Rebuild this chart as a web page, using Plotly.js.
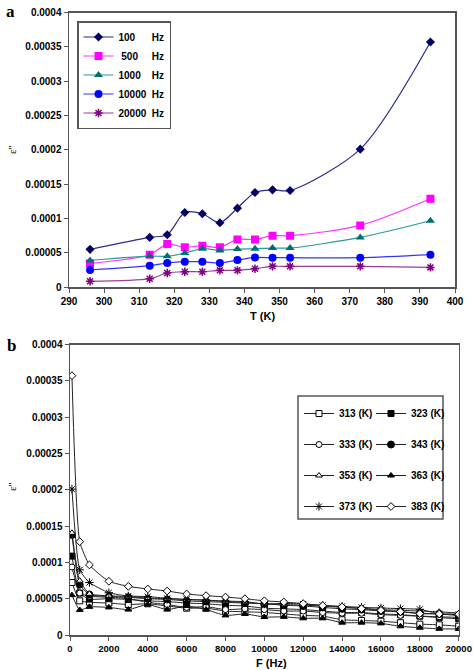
<!DOCTYPE html>
<html>
<head>
<meta charset="utf-8">
<script src="https://cdn.plot.ly/plotly-3.0.1.min.js"></script>
<style>html,body{margin:0;padding:0;background:#fff;}#chart{width:473px;height:670px;}</style>
</head>
<body>
<div id="chart"></div>
<script>
// ---- Panel a data: epsilon'' vs temperature ----
var tempA = [296, 313, 318, 323, 328, 333, 338, 343, 348, 353, 373, 393];
var e100 = [0.0000549, 0.0000723, 0.0000762, 0.0001087, 0.0001068, 0.0000937, 0.000115, 0.0001379, 0.0001417, 0.0001408, 0.000201, 0.0003573];
var e500 = [0.0000345, 0.0000471, 0.0000626, 0.0000578, 0.0000602, 0.0000578, 0.0000694, 0.0000694, 0.0000748, 0.0000748, 0.0000898, 0.0001286];
var e1000 = [0.0000388, 0.0000451, 0.0000447, 0.0000495, 0.0000558, 0.0000534, 0.0000553, 0.0000558, 0.0000568, 0.0000568, 0.0000723, 0.0000966];
var e10000 = [0.0000248, 0.0000311, 0.000035, 0.0000369, 0.0000369, 0.000035, 0.0000393, 0.0000432, 0.0000427, 0.0000427, 0.0000427, 0.0000471];
var e20000 = [0.0000083, 0.0000121, 0.0000204, 0.0000223, 0.0000223, 0.0000243, 0.0000243, 0.0000267, 0.0000301, 0.0000301, 0.0000301, 0.0000286];
var namesA = ['100\u00a0\u00a0\u00a0\u00a0\u00a0\u00a0Hz', '\u00a0500\u00a0\u00a0\u00a0\u00a0\u00a0Hz', '1000\u00a0\u00a0\u00a0\u00a0Hz', '10000\u00a0\u00a0Hz', '20000\u00a0\u00a0Hz'];

// ---- Panel b data: epsilon'' vs frequency ----
var freqB = [100, 500, 1000, 2000, 3000, 4000, 5000, 6000, 7000, 8000, 9000, 10000, 11000, 12000, 13000, 14000, 15000, 16000, 17000, 18000, 19000, 20000];
var k313 = [0.0000723, 0.0000471, 0.0000451, 0.000044, 0.000042, 0.000043, 0.000040, 0.000037, 0.000037, 0.000033, 0.000032, 0.0000311, 0.000029, 0.000027, 0.000026, 0.000021, 0.000020, 0.000019, 0.000017, 0.000015, 0.000014, 0.0000121];
var k323 = [0.0001087, 0.0000578, 0.0000495, 0.000050, 0.000049, 0.000047, 0.000046, 0.000044, 0.000043, 0.000041, 0.000040, 0.0000369, 0.000036, 0.000035, 0.000033, 0.000031, 0.000031, 0.000029, 0.000028, 0.000026, 0.000024, 0.0000223];
var k333 = [0.0000937, 0.0000578, 0.0000534, 0.000052, 0.000050, 0.000045, 0.000042, 0.000038, 0.000039, 0.000035, 0.000036, 0.000035, 0.000033, 0.000033, 0.000031, 0.000030, 0.000030, 0.000028, 0.000027, 0.000026, 0.000025, 0.0000243];
var k343 = [0.0001379, 0.0000694, 0.0000558, 0.000053, 0.000052, 0.000050, 0.000049, 0.000047, 0.000046, 0.000045, 0.000044, 0.0000432, 0.000041, 0.000040, 0.000038, 0.000036, 0.000035, 0.000033, 0.000032, 0.000030, 0.000029, 0.0000267];
var k353 = [0.0001408, 0.0000748, 0.0000568, 0.000054, 0.000053, 0.000051, 0.000050, 0.000049, 0.000048, 0.000046, 0.000045, 0.0000427, 0.000042, 0.000041, 0.000040, 0.000038, 0.000037, 0.000035, 0.000034, 0.000033, 0.000032, 0.0000301];
var k363 = [0.0000549, 0.0000345, 0.0000388, 0.000038, 0.000035, 0.000042, 0.000035, 0.000040, 0.000035, 0.000027, 0.000029, 0.0000248, 0.000025, 0.000023, 0.000023, 0.000017, 0.000017, 0.000016, 0.000012, 0.000010, 0.0000085, 0.0000083];
var k373 = [0.000201, 0.0000898, 0.0000723, 0.0000583, 0.0000537, 0.000053, 0.0000505, 0.000049, 0.000048, 0.0000468, 0.0000459, 0.0000427, 0.0000436, 0.0000427, 0.0000409, 0.0000395, 0.0000381, 0.0000372, 0.0000363, 0.0000354, 0.000029, 0.0000286];
var k383 = [0.0003573, 0.0001286, 0.0000966, 0.000074, 0.000067, 0.0000634, 0.0000606, 0.0000565, 0.0000542, 0.0000523, 0.00005, 0.0000471, 0.0000455, 0.0000432, 0.0000404, 0.0000386, 0.0000363, 0.000034, 0.0000321, 0.0000294, 0.000029, 0.0000286];
var namesB = ['313 (K)', '323 (K)', '333 (K)', '343 (K)', '353 (K)', '363 (K)', '373 (K)', '383 (K)'];

// ---- tick labels ----
var yTickVals = [0, 0.00005, 0.0001, 0.00015, 0.0002, 0.00025, 0.0003, 0.00035, 0.0004];
var yTickText = ['0', '0.00005', '0.0001', '0.00015', '0.0002', '0.00025', '0.0003', '0.00035', '0.0004'];
var xTickValsA = [290, 300, 310, 320, 330, 340, 350, 360, 370, 380, 390, 400];
var xTickValsB = [0, 2000, 4000, 6000, 8000, 10000, 12000, 14000, 16000, 18000, 20000];
var xTickTextB = ['0', '2000', '4000', '6000', '8000', '10000', '12000', '14000', '16000', '18000', '20000'];

var W = 473, H = 670;
var FONT = 'Arial, "Liberation Sans", sans-serif';

var seriesA = [e100, e500, e1000, e10000, e20000];
var lineColA = ['#2b2b8c', '#ff33ff', '#2a9a9a', '#3333ff', '#9a3d9a'];
var mkColA = ['#000066', '#ff00ff', '#007070', '#0000ff', '#800080'];
var symA = ['diamond', 'square', 'triangle-up', 'circle', 'asterisk-open'];
var sizeA = [7, 8, 8, 8, 7];

var traces = [];
seriesA.forEach(function (s, i) {
  var mk = {symbol: symA[i], size: sizeA[i], color: mkColA[i]};
  if (symA[i] === 'asterisk-open') mk.line = {color: mkColA[i], width: 1.5};
  traces.push({
    x: tempA, y: s, type: 'scatter', mode: 'lines+markers', name: namesA[i],
    xaxis: 'x', yaxis: 'y', legend: 'legend',
    line: {color: lineColA[i], width: 1.2, shape: 'spline', smoothing: 0.8},
    marker: mk
  });
});

var seriesB = [k313, k323, k333, k343, k353, k363, k373, k383];
var symB = ['square', 'square', 'circle', 'circle', 'triangle-up', 'triangle-up', 'asterisk-open', 'diamond'];
var fillB = ['#ffffff', '#000000', '#ffffff', '#000000', '#ffffff', '#000000', '#000000', '#ffffff'];
var sizeB = [6, 6, 6, 7, 6, 6, 7, 6];
seriesB.forEach(function (s, i) {
  traces.push({
    x: freqB, y: s, type: 'scatter', mode: 'lines+markers', name: namesB[i],
    xaxis: 'x2', yaxis: 'y2', legend: (i % 2 === 0) ? 'legend2' : 'legend3',
    legendgroup: 'g' + i,
    line: {color: '#222222', width: 1, shape: 'spline', smoothing: 0.5},
    marker: {symbol: symB[i], size: sizeB[i], color: fillB[i], line: {color: '#000000', width: 1}}
  });
});

function axisCommon() {
  return {
    showgrid: false, zeroline: false, showline: true, mirror: true,
    linecolor: '#555555', linewidth: 1.5,
    ticks: 'outside', ticklen: 4, tickcolor: '#555555', tickwidth: 1,
    ticklabeloverflow: 'allow',
    tickfont: {family: FONT, size: 10, color: '#000', weight: 'bold'}
  };
}
var xa = axisCommon(); xa.domain = [69 / W, 455 / W]; xa.range = [290, 400]; xa.anchor = 'y';
xa.tickmode = 'array'; xa.tickvals = xTickValsA;
var ya = axisCommon(); ya.domain = [1 - 287 / H, 1 - 12.7 / H]; ya.range = [0, 0.0004]; ya.anchor = 'x';
ya.tickmode = 'array'; ya.tickvals = yTickVals; ya.ticktext = yTickText;
var xb = axisCommon(); xb.domain = [70 / W, 458.7 / W]; xb.range = [0, 20000]; xb.anchor = 'y2';
xb.tickmode = 'array'; xb.tickvals = xTickValsB; xb.ticktext = xTickTextB;
xb.tickfont = {family: FONT, size: 9.5, color: '#000', weight: 'bold'};
var yb = axisCommon(); yb.domain = [1 - 635 / H, 1 - 344.7 / H]; yb.range = [0, 0.0004]; yb.anchor = 'x2';
yb.tickmode = 'array'; yb.tickvals = yTickVals; yb.ticktext = yTickText;

var legFont = {family: FONT, size: 10, color: '#000', weight: 'bold'};
function ann(text, x, y, font, angle) {
  var a = {text: text, xref: 'paper', yref: 'paper', x: x / W, y: 1 - y / H, showarrow: false,
    xanchor: 'center', yanchor: 'middle', font: font};
  if (angle !== undefined) a.textangle = angle;
  return a;
}
var serifBold = {family: '"Liberation Serif", "DejaVu Serif", serif', size: 17, color: '#000', weight: 'bold'};
var titleFont = {family: FONT, size: 11, color: '#000', weight: 'bold'};
var epsFont = {family: '"Liberation Serif", serif', size: 11, color: '#000'};

var layout = {
  width: W, height: H,
  margin: {l: 0, r: 0, t: 0, b: 0},
  paper_bgcolor: '#fff', plot_bgcolor: '#fff',
  showlegend: true,
  xaxis: xa, yaxis: ya, xaxis2: xb, yaxis2: yb,
  legend: {x: 77 / W, y: 1 - 21 / H, xanchor: 'left', yanchor: 'top', bgcolor: '#fff',
    bordercolor: '#555', borderwidth: 1.5, font: legFont, itemwidth: 30},
  legend2: {x: 299 / W, y: 1 - 399 / H, xanchor: 'left', yanchor: 'top', bgcolor: 'rgba(0,0,0,0)',
    borderwidth: 0, font: legFont, itemwidth: 30, tracegroupgap: 12},
  legend3: {x: 371 / W, y: 1 - 399 / H, xanchor: 'left', yanchor: 'top', bgcolor: 'rgba(0,0,0,0)',
    borderwidth: 0, font: legFont, itemwidth: 30, tracegroupgap: 12},
  shapes: [{type: 'rect', xref: 'paper', yref: 'paper', x0: 298 / W, x1: 443 / W,
    y0: 1 - 519 / H, y1: 1 - 396 / H, line: {color: '#555', width: 1.5}, fillcolor: 'rgba(0,0,0,0)', layer: 'below'}],
  annotations: [
    ann('a', 10, 12, serifBold),
    ann('b', 11, 345, serifBold),
    ann('T (K)', 262, 316, titleFont),
    ann('F (Hz)', 271, 663, titleFont),
    ann("\u03b5''", 12, 150, epsFont, -90),
    ann("\u03b5''", 12, 487, epsFont, -90)
  ]
};

Plotly.newPlot('chart', traces, layout, {displayModeBar: false, staticPlot: true});
</script>
</body>
</html>
